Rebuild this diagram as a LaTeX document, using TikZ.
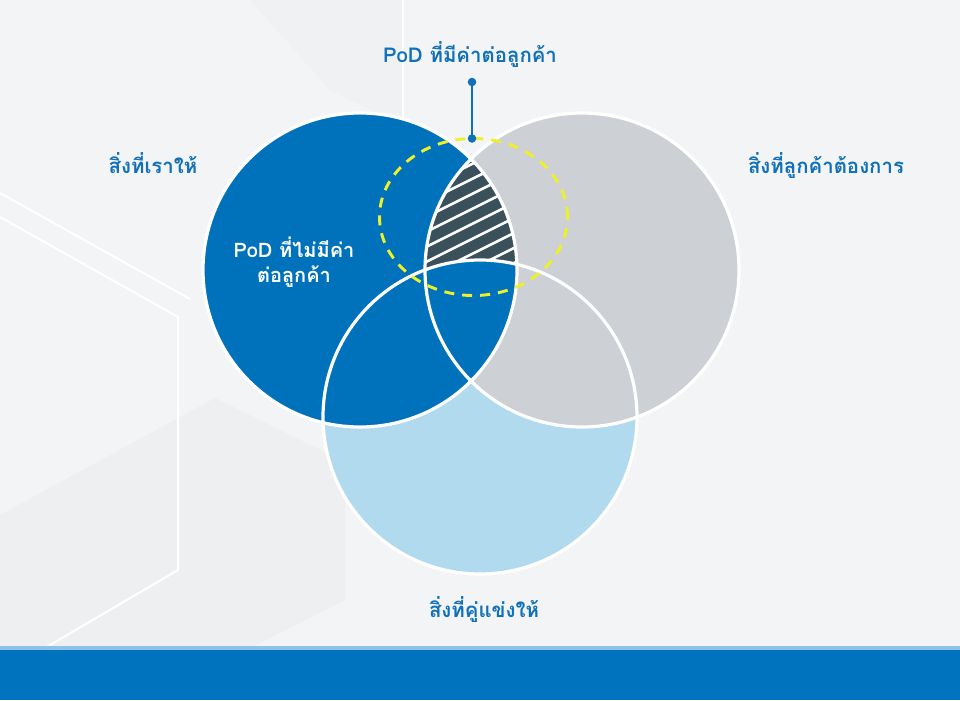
\documentclass[tikz,border=0pt]{standalone}
\usepackage{fontspec}
\newfontfamily\thaifont[Script=Thai]{Loma}
\definecolor{bgcol}{RGB}{243,244,245}
\definecolor{hexshade}{RGB}{238,239,241}
\definecolor{bluemain}{RGB}{0,114,188}
\definecolor{graycirc}{RGB}{205,208,212}
\definecolor{lightcirc}{RGB}{178,218,238}
\definecolor{slate}{RGB}{58,80,90}
\definecolor{txtblue}{RGB}{16,112,184}
\definecolor{yel}{RGB}{238,240,42}
\definecolor{bandline}{RGB}{140,195,230}
\definecolor{band}{RGB}{0,115,190}
\tikzset{
  lbl/.style={font=\thaifont\bfseries\fontsize{15.3}{18}\selectfont, text=txtblue, anchor=base, inner sep=0pt},
  wlbl/.style={font=\thaifont\bfseries\fontsize{15}{18}\selectfont, text=white, anchor=base, inner sep=0pt},
  outline/.style={draw=white, line width=2.4pt},
  bgline/.style={draw=white, line width=1.5pt},
  hatchline/.style={draw=white, line width=1.9pt},
  yeldash/.style={draw=yel, line width=2.2pt, dash pattern=on 7.5pt off 6pt},
  pin/.style={draw=txtblue, line width=1.9pt},
  pindot/.style={fill=txtblue}
}
\begin{document}
\begin{tikzpicture}[x=0.75pt,y=-0.75pt]
\useasboundingbox (0,0) rectangle (960,700);
% background
\fill[bgcol] (0,0) rectangle (960,700);
\fill[hexshade] (0,515) -- (215,398) -- (345,462) -- (345,600) -- (250,648) -- (0,648) -- cycle;
\fill[hexshade!50!bgcol] (250,0) -- (403,0) -- (403,125) -- (330,90) -- cycle;
\draw[bgline] (0,193) -- (190,299);
\draw[bgline] (0,217) -- (178,317) -- (178,570) -- (45,648);
\draw[bgline] (403,0) -- (403,125);
% bottom band
\fill[bandline] (0,646) rectangle (960,650);
\fill[band] (0,650) rectangle (960,700);
% circle centres
\coordinate (cL) at (360,270);
\coordinate (cR) at (582,270);
\coordinate (cB) at (480,417);
\coordinate (cY) at (473.5,217);
% fills
\fill[lightcirc] (cB) circle[radius=117.75pt];
\fill[graycirc] (cR) circle[radius=117.75pt];
\fill[bluemain] (cL) circle[radius=117.75pt];
% hatched intersection
\begin{scope}
  \clip (cL) circle[radius=117.75pt];
  \clip (cR) circle[radius=117.75pt];
  \fill[slate] (380,100) rectangle (560,440);
  \foreach \i in {-6,...,22} {
    \draw[hatchline] (380,{120+\i*15}) -- (580,{20+\i*15});
  }
  \fill[bluemain] (cB) circle[radius=117.75pt];
\end{scope}
% outlines
\draw[outline] (cB) circle[radius=117.75pt];
\draw[outline] (cR) circle[radius=117.75pt];
\draw[outline] (cL) circle[radius=117.75pt];
% yellow dashed ellipse
\draw[yeldash] (cY) ellipse[x radius=70.5pt, y radius=58.9pt];
% pin connector
\node[lbl] (top) at (470,62) {PoD ที่มีค่าต่อลูกค้า};
\coordinate (dotA) at (472,82);
\coordinate (dotB) at (472,138.5);
\draw[pin] (dotA) -- (dotB);
\fill[pindot] (dotA) circle[radius=3.2pt];
\fill[pindot] (dotB) circle[radius=3.2pt];
% labels
\node[lbl] (ours) at (153,173) {สิ่งที่เราให้};
\node[lbl] (cust) at (826,173) {สิ่งที่ลูกค้าต้องการ};
\node[lbl] (comp) at (484,617) {สิ่งที่คู่แข่งให้};
\node[wlbl] (nov1) at (294,257) {PoD ที่ไม่มีค่า};
\node[wlbl] (nov2) at (294,282) {ต่อลูกค้า};
\end{tikzpicture}
\end{document}
